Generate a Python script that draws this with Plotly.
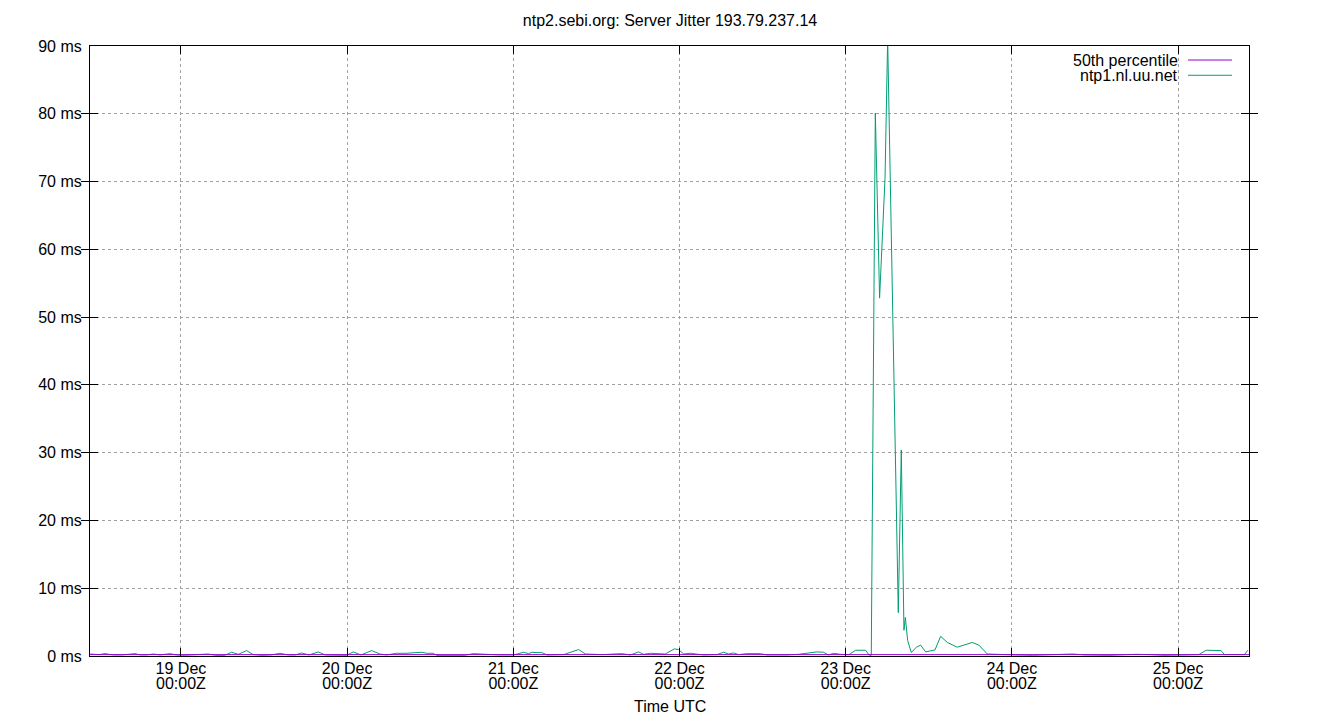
import plotly.graph_objects as go

# jitter samples for ntp1.nl.uu.net (ms)
times = [
    "2023-12-18 10:55", "2023-12-18 11:20", "2023-12-18 12:10", "2023-12-18 13:02",
    "2023-12-18 14:14", "2023-12-18 15:30", "2023-12-18 16:30", "2023-12-18 17:22",
    "2023-12-18 18:10", "2023-12-18 19:02", "2023-12-18 20:00", "2023-12-18 21:00",
    "2023-12-18 22:25", "2023-12-18 23:20", "2023-12-19 00:30", "2023-12-19 01:30",
    "2023-12-19 02:30", "2023-12-19 03:57", "2023-12-19 05:00", "2023-12-19 06:20",
    "2023-12-19 07:18", "2023-12-19 08:17", "2023-12-19 09:29", "2023-12-19 10:26",
    "2023-12-19 11:40", "2023-12-19 13:00", "2023-12-19 14:18", "2023-12-19 15:30",
    "2023-12-19 16:30", "2023-12-19 17:25", "2023-12-19 18:30", "2023-12-19 19:50",
    "2023-12-19 20:50", "2023-12-19 22:00", "2023-12-19 23:55", "2023-12-20 00:53",
    "2023-12-20 02:00", "2023-12-20 03:32", "2023-12-20 04:44", "2023-12-20 05:40",
    "2023-12-20 07:08", "2023-12-20 08:30", "2023-12-20 09:40", "2023-12-20 10:45",
    "2023-12-20 11:30", "2023-12-20 12:26", "2023-12-20 12:55", "2023-12-20 15:00",
    "2023-12-20 17:00", "2023-12-20 18:12", "2023-12-20 19:00", "2023-12-20 20:30",
    "2023-12-20 22:00", "2023-12-21 00:03", "2023-12-21 01:30", "2023-12-21 02:13",
    "2023-12-21 02:42", "2023-12-21 03:25", "2023-12-21 04:08", "2023-12-21 04:52",
    "2023-12-21 07:16", "2023-12-21 09:26", "2023-12-21 10:24", "2023-12-21 12:48",
    "2023-12-21 14:44", "2023-12-21 15:41", "2023-12-21 16:53", "2023-12-21 18:06",
    "2023-12-21 18:49", "2023-12-21 19:47", "2023-12-21 21:57", "2023-12-21 23:15",
    "2023-12-21 23:52", "2023-12-22 00:36", "2023-12-22 01:33", "2023-12-22 03:29",
    "2023-12-22 05:24", "2023-12-22 06:22", "2023-12-22 07:05", "2023-12-22 07:49",
    "2023-12-22 08:32", "2023-12-22 09:44", "2023-12-22 11:40", "2023-12-22 12:37",
    "2023-12-22 15:30", "2023-12-22 17:12", "2023-12-22 19:50", "2023-12-22 20:48",
    "2023-12-22 21:31", "2023-12-22 22:15", "2023-12-22 23:13", "2023-12-23 00:29",
    "2023-12-23 01:26", "2023-12-23 02:10", "2023-12-23 02:53", "2023-12-23 03:22",
    "2023-12-23 03:42", "2023-12-23 04:17", "2023-12-23 04:54", "2023-12-23 05:41",
    "2023-12-23 06:04", "2023-12-23 07:36", "2023-12-23 08:02", "2023-12-23 08:25",
    "2023-12-23 08:37", "2023-12-23 08:57", "2023-12-23 09:29", "2023-12-23 10:12",
    "2023-12-23 10:50", "2023-12-23 11:33", "2023-12-23 12:54", "2023-12-23 13:43",
    "2023-12-23 14:41", "2023-12-23 16:07", "2023-12-23 17:20", "2023-12-23 18:17",
    "2023-12-23 19:15", "2023-12-23 20:27", "2023-12-24 00:30", "2023-12-24 03:00",
    "2023-12-24 08:48", "2023-12-24 10:30", "2023-12-24 14:00", "2023-12-24 17:57",
    "2023-12-24 19:53", "2023-12-24 22:00", "2023-12-25 01:00", "2023-12-25 03:00",
    "2023-12-25 04:04", "2023-12-25 06:13", "2023-12-25 06:42", "2023-12-25 08:30",
    "2023-12-25 09:35", "2023-12-25 10:04",
]
jitter_ms = [
    0.3, 0.3, 0.2, 0.35,
    0.15, 0.15, 0.2, 0.35,
    0.15, 0.15, 0.3, 0.15,
    0.35, 0.15, 0.1, 0.15,
    0.3, 0.3, 0.1, 0.1,
    0.55, 0.25, 0.8, 0.2,
    0.1, 0.15, 0.4, 0.15,
    0.15, 0.45, 0.15, 0.6,
    0.15, 0.1, 0.1, 0.6,
    0.15, 0.8, 0.3, 0.15,
    0.4, 0.4, 0.45, 0.55,
    0.4, 0.4, 0.1, 0.1,
    0.1, 0.35, 0.3, 0.2,
    0.15, 0.15, 0.55, 0.35,
    0.55, 0.5, 0.5, 0.15,
    0.2, 0.95, 0.3, 0.2,
    0.3, 0.35, 0.15, 0.6,
    0.25, 0.4, 0.3, 1.05,
    0.95, 0.3, 0.4, 0.15,
    0.2, 0.55, 0.3, 0.45,
    0.2, 0.35, 0.35, 0.15,
    0.15, 0.25, 0.6, 0.55,
    0.15, 0.4, 0.25, 0.2,
    0.85, 0.9, 0.85, 0.15,
    0.1, 80.1, 52.8, 70.5,
    91.0, 6.4, 30.4, 3.8,
    5.7, 2.3, 0.5, 1.3,
    1.6, 0.6, 0.9, 2.9,
    2.0, 1.3, 1.75, 2.0,
    1.6, 0.3, 0.15, 0.1,
    0.3, 0.15, 0.1, 0.25,
    0.2, 0.1, 0.15, 0.2,
    0.85, 0.8, 0.2, 0.15,
    0.2, 0.85,
]

# 50th percentile line
median_times = ["2023-12-18 10:52", "2023-12-25 10:15"]
median_ms = [0.2, 0.2]

x_range = ["2023-12-18 10:52", "2023-12-25 10:15"]
tick_vals = ["2023-12-19", "2023-12-20", "2023-12-21", "2023-12-22",
             "2023-12-23", "2023-12-24", "2023-12-25"]
tick_days = ["19 Dec", "20 Dec", "21 Dec", "22 Dec", "23 Dec", "24 Dec", "25 Dec"]
tick_hours = ["00:00Z"] * 7
y_ticks = [0, 10, 20, 30, 40, 50, 60, 70, 80, 90]
y_tick_text = [f"{v} ms" for v in y_ticks]

purple = "#9400d3"
green = "#009e73"
font = "Liberation Sans, Arial, sans-serif"
grid = dict(showgrid=True, gridcolor="#a0a0a0", gridwidth=1, griddash="3px,3px")

fig = go.Figure()
fig.add_trace(go.Scatter(x=median_times, y=median_ms, mode="lines", xaxis="x2",
                         line=dict(color=purple, width=1), name="50th percentile"))
fig.add_trace(go.Scatter(x=times, y=jitter_ms, mode="lines",
                         line=dict(color=green, width=1), name="ntp1.nl.uu.net"))

# the page body adds an 8px margin, so the figure is 16px smaller than the window
fig.update_layout(
    width=1324, height=704,
    margin=dict(l=82, r=83, t=38, b=56),
    paper_bgcolor="white", plot_bgcolor="white",
    font=dict(family=font, size=16, color="black"),
    showlegend=False,
    title=dict(text="ntp2.sebi.org: Server Jitter 193.79.237.14",
               x=0.5, xanchor="center", y=1 - 12 / 704, yanchor="middle",
               font=dict(size=16)),
    xaxis=dict(
        type="date", range=x_range, tickvals=tick_vals, ticktext=tick_days,
        showline=True, linecolor="black", linewidth=1, mirror="allticks",
        ticks="inside", ticklen=8, tickcolor="black",
        zeroline=False, tickfont=dict(size=16), ticklabelstandoff=-2,
        automargin=False, **grid,
    ),
    # second bottom axis carries the "00:00Z" line of the tick labels
    xaxis2=dict(
        overlaying="x", side="bottom", anchor="y", type="date",
        range=x_range, tickvals=tick_vals, ticktext=tick_hours,
        showgrid=False, showline=False, ticks="", zeroline=False,
        tickfont=dict(size=16), ticklabelstandoff=16, automargin=False,
    ),
    yaxis=dict(
        range=[0, 90], tickvals=y_ticks, ticktext=y_tick_text,
        showline=True, linecolor="black", linewidth=1, mirror="allticks",
        ticks="inside", ticklen=8, tickcolor="black",
        zeroline=False, tickfont=dict(size=16), ticklabelstandoff=4,
        automargin=False, **grid,
    ),
)

# x axis title
fig.add_annotation(x=0.5, y=-50 / 610, xref="paper", yref="paper",
                   text="Time UTC", showarrow=False, xanchor="center", yanchor="middle",
                   font=dict(size=16, color="black"))

# gnuplot-style key: text on the left, line sample on the right
legend_items = [("50th percentile", purple, 0.977), ("ntp1.nl.uu.net", green, 0.952)]
for label, color, ypos in legend_items:
    fig.add_annotation(x=0.9405, y=ypos, xref="paper", yref="paper",
                       text=label, showarrow=False, xanchor="right", yanchor="middle",
                       font=dict(size=16, color="black"))
    fig.add_shape(type="line", xref="paper", yref="paper",
                  x0=0.9474, x1=0.9853, y0=ypos, y1=ypos,
                  line=dict(color=color, width=1))

fig.write_html("out.html")
